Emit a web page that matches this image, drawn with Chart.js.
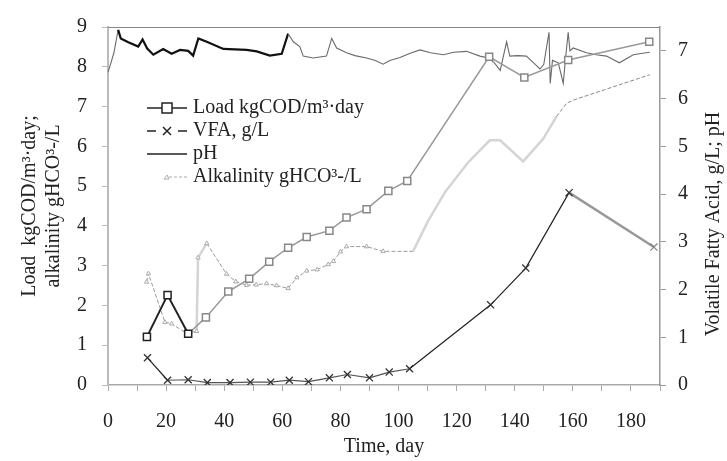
<!DOCTYPE html>
<html>
<head>
<meta charset="utf-8">
<script src="https://cdn.jsdelivr.net/npm/chart.js@4.4.0/dist/chart.umd.min.js"></script>
<style>
    html, body { margin: 0; padding: 0; background: #fff; }
    canvas { display: block; }
</style>
</head>
<body>
<canvas id="chart" width="727" height="461"></canvas>
<script>
const SERIF = "'Liberation Serif', 'Times New Roman', serif";

/* =======================
   DATA
======================= */
// Load kgCOD/m3.day (left axis)
const loadDays   = [13.4, 20.5, 27.6, 33.7, 41.4, 48.6, 55.5, 62, 68.4, 76.2, 82.1, 89, 96.5, 103, 131.2, 143.3, 158.4, 186.3];
const loadValues = [1.21, 2.26, 1.29, 1.70, 2.35, 2.67, 3.10, 3.45, 3.72, 3.88, 4.21, 4.42, 4.88, 5.13, 8.25, 7.73, 8.17, 8.63];

// VFA g/L (right axis)
const vfaDays   = [13.6, 20.5, 27.6, 34.2, 42, 49, 56, 62.4, 69, 76.2, 82.4, 90, 96.8, 103.8, 131.7, 143.8, 158.7, 187.9];
const vfaValues = [0.57, 0.10, 0.11, 0.05, 0.05, 0.06, 0.06, 0.10, 0.07, 0.15, 0.22, 0.15, 0.27, 0.34, 1.68, 2.45, 4.03, 2.89];

// pH (right axis)
const phDays = [0, 2, 3.5, 4.4, 7, 10.4, 11.9, 13.5, 15.6, 19, 21.9, 24.8, 27.6, 29.3, 31.1, 34, 39.7, 47.7, 51.2, 55.7,
    59.8, 62, 63.8, 66, 67.2, 70.6, 75.2, 77, 78.7, 82.1, 85, 89, 92, 94.7, 97, 100.5, 104, 107.4, 111, 115.4,
    119, 123.4, 128, 131, 133, 135, 137.2, 138.3, 141, 144, 146.5, 148.7, 150, 151.8, 152.2, 153, 155, 156.7, 157.5, 158.4,
    159, 160.1, 164.7, 168, 171.6, 176, 180.8, 184, 186.5];
const phValues = [6.55, 6.95, 7.44, 7.26, 7.18, 7.09, 7.24, 7.05, 6.92, 7.04, 6.94, 7.02, 7.0, 6.9, 7.26, 7.19, 7.04, 7.02, 6.99, 6.9,
    6.94, 7.36, 7.19, 7.09, 6.89, 6.85, 6.89, 7.26, 7.06, 6.96, 6.9, 6.85, 6.8, 6.72, 6.8, 6.86, 6.95, 7.02, 6.96, 6.92,
    6.97, 6.99, 6.89, 6.85, 6.75, 6.59, 7.19, 6.89, 6.9, 6.89, 6.75, 6.62, 6.72, 7.39, 6.32, 6.8, 6.75, 6.32, 6.85, 7.39,
    7.0, 7.06, 6.96, 6.92, 6.89, 6.75, 6.92, 6.95, 6.97];

// Alkalinity gHCO3-/L (left axis)
const alkDays   = [13.3, 13.9, 19.6, 21.9, 27, 30.5, 31, 34, 40.8, 44, 47.7, 51, 54.6, 58, 62, 65, 68.4, 72, 75.8, 77.6,
    80, 82.1, 89, 94.7, 105, 110, 116, 124, 131.4, 135, 142.9, 149.8, 154.4, 157.8, 160.1, 171.6, 186.5];
const alkValues = [2.59, 2.8, 1.58, 1.54, 1.3, 1.35, 3.2, 3.56, 2.79, 2.6, 2.51, 2.52, 2.55, 2.5, 2.43, 2.7, 2.87, 2.9, 3.03, 3.11,
    3.35, 3.48, 3.48, 3.36, 3.36, 4.1, 4.85, 5.6, 6.15, 6.15, 5.62, 6.19, 6.75, 7.08, 7.16, 7.44, 7.8];

// axes
const xTickLabels = [0, 20, 40, 60, 80, 100, 120, 140, 160, 180];
const leftTitle = ["Load  kgCOD/m³·day;", "alkalinity gHCO³-/L"];
const rightTitle = "Volatile Fatty Acid, g/L; pH";
const bottomTitle = "Time, day";

function points(days, values) {
    return days.map((d, i) => ({ x: d, y: values[i] }));
}

/* =======================
   PLUGINS
======================= */
const framePlugin = {
    id: "frame",
    afterDraw(chart) {
        const { ctx, chartArea: a } = chart;
        ctx.save();
        ctx.strokeStyle = "#888";
        ctx.lineWidth = 1;
        ctx.beginPath();
        ctx.moveTo(a.left, a.top + 0.5);
        ctx.lineTo(a.right, a.top + 0.5);
        ctx.stroke();
        // right title, reads bottom to top
        ctx.fillStyle = "#222";
        ctx.font = "20px " + SERIF;
        ctx.translate(714, 224);
        ctx.rotate(-Math.PI / 2);
        ctx.textAlign = "center";
        ctx.textBaseline = "middle";
        ctx.fillText(rightTitle, 0, 0);
        ctx.restore();
    }
};

const legendPlugin = {
    id: "innerLegend",
    afterDraw(chart) {
        const { ctx, chartArea: a } = chart;
        const x0 = a.left + 39, x1 = a.left + 79, xm = a.left + 59;
        ctx.save();
        ctx.font = "20px " + SERIF;
        ctx.textBaseline = "middle";
        chart.data.datasets.forEach((ds, i) => {
            const y = a.top + 81 + i * 23;
            ctx.strokeStyle = "#222";
            ctx.lineWidth = 1.5;
            ctx.setLineDash([]);
            if (i === 0) {
                ctx.beginPath(); ctx.moveTo(x0, y); ctx.lineTo(x1, y); ctx.stroke();
                ctx.fillStyle = "#fff";
                ctx.fillRect(xm - 5, y - 5, 10, 10);
                ctx.strokeRect(xm - 5, y - 5, 10, 10);
            } else if (i === 1) {
                ctx.beginPath();
                ctx.moveTo(x0, y); ctx.lineTo(x0 + 9, y);
                ctx.moveTo(x1 - 9, y); ctx.lineTo(x1, y);
                ctx.moveTo(xm - 4, y - 4); ctx.lineTo(xm + 4, y + 4);
                ctx.moveTo(xm - 4, y + 4); ctx.lineTo(xm + 4, y - 4);
                ctx.stroke();
            } else if (i === 2) {
                ctx.beginPath(); ctx.moveTo(x0, y); ctx.lineTo(x1, y); ctx.stroke();
            } else {
                ctx.strokeStyle = "#aaa";
                ctx.lineWidth = 1;
                ctx.setLineDash([3, 2]);
                ctx.beginPath(); ctx.moveTo(xm + 2, y); ctx.lineTo(x1, y); ctx.stroke();
                ctx.setLineDash([]);
                ctx.beginPath();
                ctx.moveTo(xm - 3, y + 2); ctx.lineTo(xm, y - 2); ctx.lineTo(xm + 2, y + 2); ctx.closePath();
                ctx.stroke();
            }
            ctx.fillStyle = "#222";
            ctx.fillText(ds.label, x1 + 6, y);
        });
        ctx.restore();
    }
};

/* =======================
   CHART
======================= */
new Chart(document.getElementById("chart"), {
    type: "line",
    data: {
        datasets: [
            {
                label: "Load kgCOD/m³·day",
                data: points(loadDays, loadValues),
                yAxisID: "y",
                borderColor: "#999",
                borderWidth: 1.5,
                pointStyle: "rect",
                pointRadius: 5,
                pointBackgroundColor: "#fff",
                pointBorderColor: loadDays.map((d, i) => i <= 2 ? "#222" : "#888"),
                pointBorderWidth: 1.5,
                segment: {
                    borderColor: c => c.p1DataIndex <= 2 ? "#222" : "#999",
                    borderWidth: c => c.p1DataIndex <= 2 ? 2 : 1.5
                }
            },
            {
                label: "VFA, g/L",
                data: points(vfaDays, vfaValues),
                yAxisID: "y1",
                borderColor: "#333",
                borderWidth: 1.2,
                pointStyle: "crossRot",
                pointRadius: 5,
                pointBorderColor: vfaDays.map((d, i) => i === vfaDays.length - 1 ? "#888" : "#333"),
                pointBorderWidth: 1.3,
                segment: {
                    borderColor: c => c.p0DataIndex >= 16 ? "#999" : (c.p0DataIndex >= 1 && c.p1DataIndex <= 13 ? "#555" : "#222"),
                    borderWidth: c => c.p0DataIndex >= 16 ? 2.5 : 1.2
                }
            },
            {
                label: "pH",
                data: points(phDays, phValues),
                yAxisID: "y1",
                borderColor: "#777",
                borderWidth: 1,
                pointRadius: 0,
                segment: {
                    borderColor: c => (c.p0.parsed.x >= 3.4 && c.p1.parsed.x <= 62) ? "#111" : "#6a6a6a",
                    borderWidth: c => (c.p0.parsed.x >= 3.4 && c.p1.parsed.x <= 62) ? 2.2 : 1.1
                }
            },
            {
                label: "Alkalinity gHCO³-/L",
                data: points(alkDays, alkValues),
                yAxisID: "y",
                borderColor: "#aaa",
                borderWidth: 1,
                pointStyle: "triangle",
                pointRadius: alkDays.map(d => d <= 95 ? 2.5 : 0),
                pointBackgroundColor: "#fff",
                pointBorderColor: "#aaa",
                pointBorderWidth: 1,
                segment: {
                    borderColor: c => {
                        const x = c.p0.parsed.x;
                        if (x >= 104 && x < 150) return "#d4d4d4";
                        if (x >= 30.4 && x < 31.5) return "#d4d4d4";
                        return x >= 150 ? "#888" : "#9a9a9a";
                    },
                    borderWidth: c => {
                        const x = c.p0.parsed.x;
                        return (x >= 104 && x < 150) || (x >= 30.4 && x < 31.5) ? 2.5 : 1;
                    },
                    borderDash: c => {
                        const x = c.p0.parsed.x;
                        return (x >= 104 && x < 150) || (x >= 30.4 && x < 31.5) ? [] : [4, 2];
                    }
                }
            }
        ]
    },
    options: {
        responsive: false,
        animation: false,
        layout: { padding: { top: 14, left: 0, right: 0, bottom: 0 } },
        plugins: {
            legend: { display: false },
            tooltip: { enabled: false }
        },
        scales: {
            x: {
                type: "linear",
                min: 0,
                max: 190,
                afterFit(s) { s.height = 76; },
                ticks: {
                    stepSize: 10,
                    autoSkip: false,
                    maxRotation: 0,
                    padding: 19,
                    color: "#222",
                    font: { family: SERIF, size: 20 },
                    callback: v => xTickLabels.includes(v) ? String(v) : ""
                },
                grid: { drawOnChartArea: false, drawTicks: true, tickLength: 6, color: "#aaa" },
                border: { color: "#aaa", width: 1.5 },
                title: {
                    display: true,
                    text: bottomTitle,
                    color: "#222",
                    font: { family: SERIF, size: 20 },
                    padding: { top: 0, bottom: 2 }
                }
            },
            y: {
                position: "left",
                min: 0,
                max: 9,
                afterFit(s) { s.width = 108; },
                ticks: {
                    stepSize: 1,
                    padding: 15,
                    color: "#222",
                    font: { family: SERIF, size: 20 }
                },
                grid: { drawOnChartArea: false, drawTicks: true, tickLength: 6, color: "#bbb" },
                border: { color: "#bbb", width: 2 },
                title: {
                    display: true,
                    text: leftTitle,
                    color: "#222",
                    font: { family: SERIF, size: 20 },
                    padding: { top: 18, bottom: 0 }
                }
            },
            y1: {
                position: "right",
                min: 0,
                max: 7.5,
                afterFit(s) { s.width = 67; },
                ticks: {
                    stepSize: 0.5,
                    padding: 12,
                    color: "#222",
                    font: { family: SERIF, size: 20 },
                    callback: v => Number.isInteger(v) ? String(v) : ""
                },
                grid: { drawOnChartArea: false, drawTicks: true, tickLength: 6, color: "#999" },
                border: { color: "#999", width: 1.5 }
            }
        }
    },
    plugins: [framePlugin, legendPlugin]
});
</script>
</body>
</html>
